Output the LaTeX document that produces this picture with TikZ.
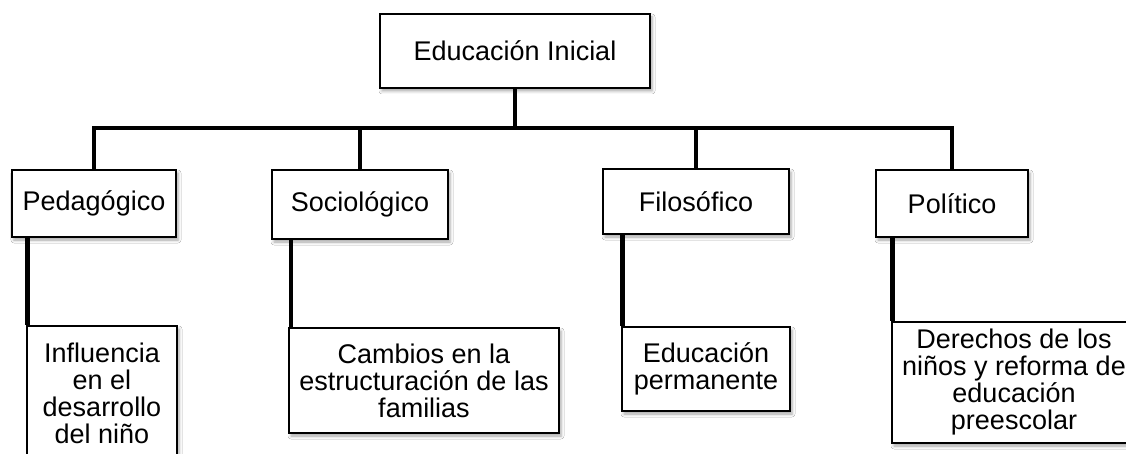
\documentclass[tikz,border=0pt]{standalone}
\usepackage{fontspec}
\setmainfont{Liberation Sans}
\usetikzlibrary{shadows.blur}
\begin{document}
\begin{tikzpicture}[x=1pt,y=-1pt,
  box/.style={draw=black, line width=2pt, fill=white, inner sep=0pt, align=center,
    font=\fontsize{27}{27}\selectfont,
    blur shadow={shadow xshift=2pt, shadow yshift=-3pt, shadow blur radius=3pt, shadow opacity=35}},
  conn/.style={line width=4.5pt, line cap=butt}]
\useasboundingbox (0,0) rectangle (1126,454);
\clip (0,0) rectangle (1126,454);
\fill[white] (0,0) rectangle (1126,454);
% connectors first
\coordinate (busL) at (94,128);
\coordinate (busR) at (952,128);
% nodes
\node[box, minimum width=270pt, minimum height=74pt] (top) at (515,51) {Educación Inicial};
\node[box, minimum width=164pt, minimum height=67pt] (ped) at (94,203.5) {Pedagógico};
\node[box, minimum width=176pt, minimum height=69pt] (soc) at (360,204.5) {Sociológico};
\node[box, minimum width=186pt, minimum height=65pt] (fil) at (696,201.5) {Filosófico};
\node[box, minimum width=152pt, minimum height=67pt] (pol) at (952,203.5) {Político};
\node[box, minimum width=150pt, minimum height=134pt] (pc) at (102,393) {Influencia\\en el\\desarrollo\\del niño};
\node[box, minimum width=270pt, minimum height=105pt] (sc) at (424,380.5) {Cambios en la\\estructuración de las\\familias};
\node[box, minimum width=168pt, minimum height=84pt] (fc) at (706,369) {Educación\\permanente};
\node[box, minimum width=244pt, minimum height=121pt] (poc) at (1014,382.5) {Derechos de los\\niños y reforma de\\educación\\preescolar};
% connectors
\draw[conn] (top.south) -- (top.south |- busL);
\draw[conn, line cap=rect] ([xshift=-0pt]busL) -- (busR);
\draw[conn] (busL) -- (ped.north);
\draw[conn] (soc.north |- busL) -- (soc.north);
\draw[conn] (fil.north |- busL) -- (fil.north);
\draw[conn] (busR) -- (pol.north);
\draw[conn] ([xshift=1.5pt]pc.north west |- ped.south) -- ([xshift=1.5pt]pc.north west);
\draw[conn] ([xshift=3pt]sc.north west |- soc.south) -- ([xshift=3pt]sc.north west);
\draw[conn] ([xshift=1.5pt]fc.north west |- fil.south) -- ([xshift=1.5pt]fc.north west);
\draw[conn] ([xshift=1.5pt]poc.north west |- pol.south) -- ([xshift=1.5pt]poc.north west);
\end{tikzpicture}
\end{document}
